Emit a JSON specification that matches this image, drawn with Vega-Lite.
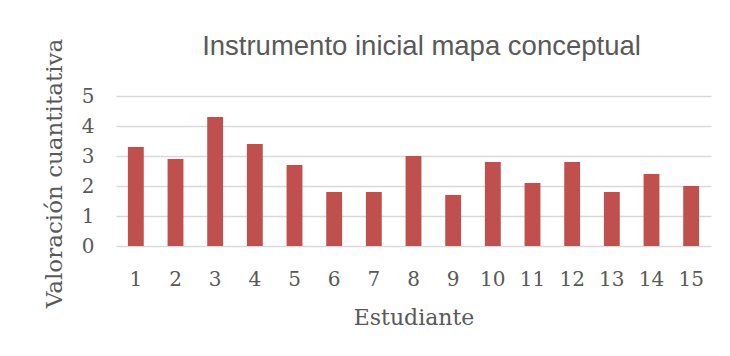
{
  "$schema": "https://vega.github.io/schema/vega-lite/v6.json",
  "width": 595,
  "height": 150,
  "autosize": {"type": "none"},
  "padding": {"left": 116, "top": 96, "right": 19, "bottom": 110},
  "background": "white",
  "title": {
    "text": "Instrumento inicial mapa conceptual",
    "font": "Liberation Sans",
    "fontSize": 27.5,
    "fontWeight": "normal",
    "color": "#595959",
    "anchor": "middle",
    "frame": "group",
    "baseline": "alphabetic",
    "dx": 8,
    "offset": -44
  },
  "data": {
    "values": [
      {"Estudiante": "1", "Valor": 3.3},
      {"Estudiante": "2", "Valor": 2.9},
      {"Estudiante": "3", "Valor": 4.3},
      {"Estudiante": "4", "Valor": 3.4},
      {"Estudiante": "5", "Valor": 2.7},
      {"Estudiante": "6", "Valor": 1.8},
      {"Estudiante": "7", "Valor": 1.8},
      {"Estudiante": "8", "Valor": 3.0},
      {"Estudiante": "9", "Valor": 1.7},
      {"Estudiante": "10", "Valor": 2.8},
      {"Estudiante": "11", "Valor": 2.1},
      {"Estudiante": "12", "Valor": 2.8},
      {"Estudiante": "13", "Valor": 1.8},
      {"Estudiante": "14", "Valor": 2.4},
      {"Estudiante": "15", "Valor": 2.0}
    ]
  },
  "mark": {"type": "bar", "color": "#C0504D"},
  "encoding": {
    "x": {
      "field": "Estudiante",
      "type": "ordinal",
      "sort": null,
      "scale": {"paddingInner": 0.6, "paddingOuter": 0.3},
      "axis": {
        "title": "Estudiante",
        "labelAngle": 0,
        "domain": false,
        "ticks": false,
        "tickSize": 0,
        "labelFont": "DejaVu Serif",
        "labelFontSize": 20,
        "labelColor": "#595959",
        "labelBaseline": "alphabetic",
        "labelPadding": 39,
        "titleFont": "DejaVu Serif",
        "titleFontSize": 22,
        "titleFontWeight": "normal",
        "titleColor": "#595959",
        "titleBaseline": "alphabetic",
        "titleY": 78
      }
    },
    "y": {
      "field": "Valor",
      "type": "quantitative",
      "scale": {"domain": [0, 5], "nice": false},
      "axis": {
        "title": "Valoración cuantitativa",
        "values": [0, 1, 2, 3, 4, 5],
        "domain": false,
        "ticks": false,
        "tickSize": 0,
        "grid": true,
        "gridColor": "#D9D9D9",
        "gridWidth": 1.3,
        "labelFont": "DejaVu Serif",
        "labelFontSize": 20,
        "labelColor": "#595959",
        "labelPadding": 22,
        "titleFont": "DejaVu Serif",
        "titleFontSize": 23,
        "titleFontWeight": "normal",
        "titleColor": "#595959",
        "titleAngle": -90,
        "titleAlign": "center",
        "titleBaseline": "middle",
        "titleX": -62,
        "titleY": 77
      }
    }
  },
  "config": {"view": {"stroke": null}}
}
